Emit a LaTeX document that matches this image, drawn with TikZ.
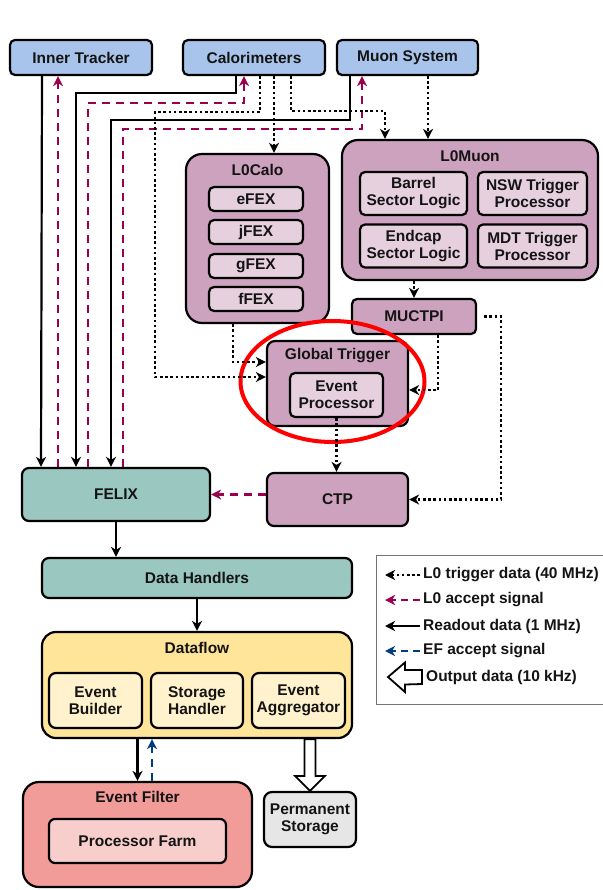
\documentclass[tikz,border=0pt]{standalone}
\usepackage{fontspec}
\setmainfont{Liberation Sans}
\usetikzlibrary{arrows.meta,shapes.geometric}
\definecolor{cblue}{HTML}{A9C4EB}
\definecolor{cpurp}{HTML}{CDA2BE}
\definecolor{cpurpl}{HTML}{E6D0DE}
\definecolor{cteal}{HTML}{9AC7BF}
\definecolor{cyell}{HTML}{FFE599}
\definecolor{cyelll}{HTML}{FFF2CC}
\definecolor{cred}{HTML}{F19C99}
\definecolor{credl}{HTML}{F8CECC}
\definecolor{cgray}{HTML}{E6E6E6}
\definecolor{cmag}{HTML}{99004D}
\definecolor{cnavy}{HTML}{003D80}
\definecolor{ctext}{HTML}{141414}
\begin{document}
\begin{tikzpicture}[x=1pt,y=-1pt,
  txt/.style={font=\fontsize{15.5}{17}\selectfont\bfseries, text=ctext},
  box/.style={txt, draw=black, line width=2.2pt, rounded corners=5pt, inner sep=0pt, align=center},
  lbl/.style={txt, inner sep=0pt},
  tip/.style={-{Stealth[length=10pt,width=10pt,inset=3pt]}},
  readout/.style={tip, line width=2.2pt, black},
  trig/.style={tip, line width=2.6pt, black, dash pattern=on 2.6pt off 2.6pt},
  acc/.style={tip, line width=2.6pt, cmag, dash pattern=on 8pt off 6pt},
  efacc/.style={tip, line width=2.6pt, cnavy, dash pattern=on 8pt off 6pt},
  hollow/.style={draw=black, line width=1.8pt, fill=white, line join=miter}
]
\useasboundingbox (0,0) rectangle (602,890);
\fill[white] (0,0) rectangle (602,890);

% top detector boxes
\node[box, fill=cblue, minimum width=142, minimum height=35] (IT) at (81,57.5) {Inner Tracker};
\node[box, fill=cblue, minimum width=142, minimum height=35] (CAL) at (254,57.5) {Calorimeters};
\node[box, fill=cblue, minimum width=141, minimum height=35] (MU) at (407.5,57.5) {Muon System};

% L0Calo
\node[box, fill=cpurp, rounded corners=16pt, minimum width=143, minimum height=169] (LC) at (257.5,238.5) {};
\node[lbl] (LCt) at (257.5,170) {L0Calo};
\node[box, fill=cpurpl, minimum width=94, minimum height=24] (eFEX) at (256,199) {eFEX};
\node[box, fill=cpurpl, minimum width=94, minimum height=24] (jFEX) at (256,232) {jFEX};
\node[box, fill=cpurpl, minimum width=94, minimum height=24] (gFEX) at (256,266) {gFEX};
\node[box, fill=cpurpl, minimum width=94, minimum height=24] (fFEX) at (256,299) {fFEX};

% L0Muon
\node[box, fill=cpurp, rounded corners=16pt, minimum width=256, minimum height=140] (LM) at (470,210) {};
\node[lbl] (LMt) at (470,156) {L0Muon};
\node[box, fill=cpurpl, minimum width=107, minimum height=43] (BSL) at (413.5,193.5) {Barrel\\Sector Logic};
\node[box, fill=cpurpl, minimum width=109, minimum height=43] (NSW) at (532.5,193.5) {NSW Trigger\\Processor};
\node[box, fill=cpurpl, minimum width=107, minimum height=43] (ESL) at (413.5,246) {Endcap\\Sector Logic};
\node[box, fill=cpurpl, minimum width=109, minimum height=43] (MDT) at (532.5,246) {MDT Trigger\\Processor};

% MUCTPI, Global Trigger, CTP
\node[box, fill=cpurp, minimum width=124, minimum height=35] (MUC) at (414,316.5) {MUCTPI};
\node[box, fill=cpurp, rounded corners=8pt, minimum width=141, minimum height=85] (GT) at (337.5,383.5) {};
\node[lbl] (GTt) at (337.5,356) {Global Trigger};
\node[box, fill=cpurpl, minimum width=93, minimum height=44] (EP) at (336.5,395) {Event\\Processor};
\node[box, fill=cpurp, rounded corners=7pt, minimum width=141, minimum height=53] (CTP) at (337.5,499.5) {CTP};

% readout chain
\node[box, fill=cteal, rounded corners=7pt, minimum width=188, minimum height=53] (FELIX) at (116,494.5) {FELIX};
\node[box, fill=cteal, rounded corners=7pt, minimum width=310, minimum height=40] (DH) at (197,578) {Data Handlers};
\node[box, fill=cyell, rounded corners=14pt, minimum width=310, minimum height=106] (DF) at (197,685) {};
\node[lbl] (DFt) at (197,648) {Dataflow};
\node[box, fill=cyelll, rounded corners=7pt, minimum width=93, minimum height=55] (EB) at (95.5,700.5) {Event\\Builder};
\node[box, fill=cyelll, rounded corners=7pt, minimum width=92, minimum height=55] (SH) at (197,700.5) {Storage\\Handler};
\node[box, fill=cyelll, rounded corners=7pt, minimum width=93, minimum height=55] (EA) at (298.5,700.5) {Event\\Aggregator};
\node[box, fill=cred, rounded corners=16pt, minimum width=229, minimum height=105] (EF) at (137.5,834.5) {};
\node[lbl] (EFt) at (137.5,797) {Event Filter};
\node[box, fill=credl, rounded corners=6pt, minimum width=177, minimum height=44] (PF) at (137.5,841) {Processor Farm};
\node[box, fill=cgray, rounded corners=8pt, minimum width=92, minimum height=55] (PS) at (310,819.5) {Permanent\\Storage};

% highlight ellipse
\node[draw=red, line width=4pt, ellipse, minimum width=184, minimum height=121, inner sep=0pt] (HL) at (332.5,381.5) {};

% readout data (solid)
\draw[readout] ([xshift=-39pt]IT.south) -- ([xshift=-75pt]FELIX.north);
\draw[readout] ([xshift=-18pt]CAL.south) -- ([xshift=-18pt,yshift=-17pt]CAL.south) -| ([xshift=-40pt]FELIX.north);
\draw[readout] ([xshift=-57.5pt]MU.south) -- ([xshift=-57.5pt,yshift=-44pt]MU.south) -| ([xshift=-5pt]FELIX.north);
\draw[readout] (FELIX.south) -- (FELIX.south |- DH.north);
\draw[readout] (DH.south) -- (DF.north);
\draw[readout] (EF.north |- DF.south) -- (EF.north);

% L0 accept (magenta dashed)
\draw[acc] ([xshift=-58pt]FELIX.north) -- ([xshift=-23pt]IT.south);
\draw[acc] ([xshift=-28pt]FELIX.north) |- ([xshift=-10pt,yshift=-27pt]CAL.south) -- ([xshift=-10pt]CAL.south);
\draw[acc] ([xshift=7pt]FELIX.north) |- ([xshift=-45.5pt,yshift=-53pt]MU.south) -- ([xshift=-45.5pt]MU.south);
\draw[acc] (CTP.west |- FELIX.east) -- (FELIX.east);

% EF accept (navy dashed)
\draw[efacc] ([xshift=14.5pt]EF.north) -- ([xshift=14.5pt]EF.north |- DF.south);

% L0 trigger data (dotted)
\draw[trig] ([xshift=6pt]CAL.south) -- ([xshift=6pt,yshift=-36pt]CAL.south) -- ++(-105,0) |- ([yshift=6.5pt]GT.west);
\draw[trig] ([xshift=20pt]CAL.south) -- ([xshift=16.5pt]LC.north);
\draw[trig] ([xshift=37pt]CAL.south) -- ([xshift=37pt,yshift=-35pt]CAL.south) -| ([xshift=-85pt]LM.north);
\draw[trig] ([xshift=20.5pt]MU.south) -- ([xshift=-42pt]LM.north);
\draw[trig] ([xshift=-24.5pt]LC.south) |- ([yshift=21.5pt]GT.west);
\draw[trig] (MUC.north |- LM.south) -- (MUC.north);
\draw[trig] ([xshift=24pt]MUC.south) |- ([yshift=-6.5pt]GT.east);
\draw[trig] ([xshift=7pt]MUC.east) -- ([xshift=24pt]MUC.east) |- (CTP.east);
\draw[trig] (EP.south) -- (EP.south |- CTP.north);

% output data (hollow arrow)
\draw[hollow] ([xshift=-5.5pt]PS.north |- DF.south) -- ([xshift=-5.5pt,yshift=15pt]PS.north) -- ++(-9.5,0) -- (PS.north) -- ++(15,-15) -- ++(-9.5,0) -- ([xshift=5.5pt]PS.north |- DF.south) -- cycle;

% legend
\draw[line width=1pt, draw=black!55] (376,555) rectangle (606,704);
\node[lbl, anchor=west] (L1) at (423,575) {L0 trigger data (40 MHz)};
\node[lbl, anchor=west] (L2) at (423,600) {L0 accept signal};
\node[lbl, anchor=west] (L3) at (423,626) {Readout data (1 MHz)};
\node[lbl, anchor=west] (L4) at (423,651) {EF accept signal};
\node[lbl, anchor=west] (L5) at (426,677) {Output data (10 kHz)};
\draw[trig] ([xshift=-3pt]L1.west) -- ([xshift=-38pt]L1.west);
\draw[acc, dash pattern=on 7pt off 5pt] ([xshift=-3pt]L2.west) -- ([xshift=-38pt]L2.west);
\draw[readout] ([xshift=-3pt]L3.west) -- ([xshift=-38pt]L3.west);
\draw[efacc, dash pattern=on 7pt off 5pt] ([xshift=-3pt]L4.west) -- ([xshift=-38pt]L4.west);
\draw[hollow] ([xshift=-4pt,yshift=7pt]L5.west) -- ([xshift=-21pt,yshift=7pt]L5.west) -- ++(0,-7.5) -- ([xshift=-38pt]L5.west) -- ++(17,15) -- ++(0,-7.5) -- ([xshift=-4pt,yshift=-7pt]L5.west) -- cycle;
\end{tikzpicture}
\end{document}
